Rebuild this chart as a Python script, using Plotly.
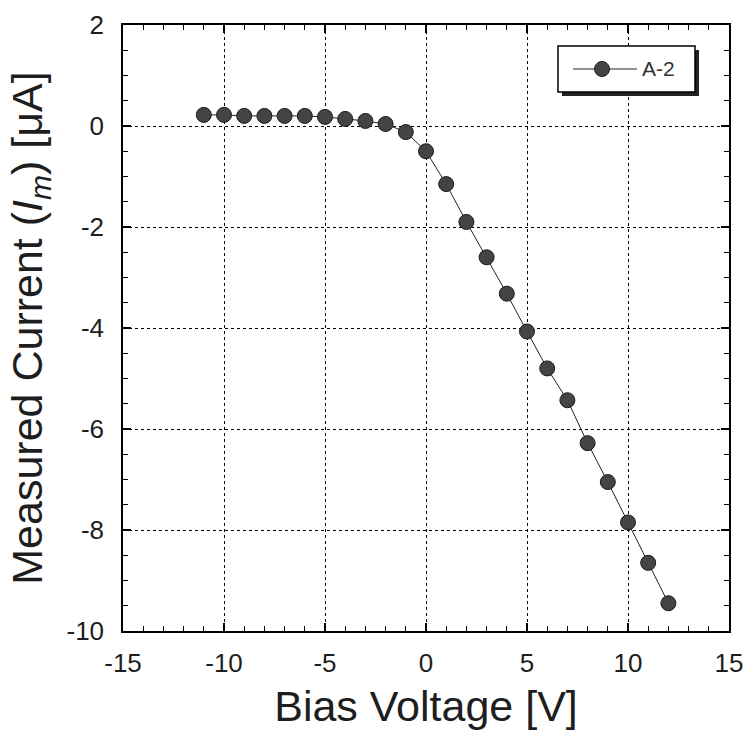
import plotly.graph_objects as go

bias_voltage = [-11, -10, -9, -8, -7, -6, -5, -4, -3, -2, -1, 0, 1, 2, 3, 4, 5, 6, 7, 8, 9, 10, 11, 12]
current_uA = [0.22, 0.22, 0.2, 0.2, 0.2, 0.2, 0.18, 0.14, 0.1, 0.04, -0.12, -0.5, -1.15, -1.9, -2.6,
              -3.32, -4.07, -4.8, -5.43, -6.28, -7.05, -7.85, -8.65, -9.45]
series_name = "A-2"
x_ticks = [-15, -10, -5, 0, 5, 10, 15]
y_ticks = [-10, -8, -6, -4, -2, 0, 2]

FONT = "Liberation Sans, Arial, sans-serif"
TXT = "#1e1e1e"

fig = go.Figure()
fig.add_trace(go.Scatter(
    x=bias_voltage, y=current_uA, name=series_name, mode="lines+markers",
    line=dict(color="#222222", width=1),
    marker=dict(size=15, color="#444444", line=dict(color="#1a1a1a", width=1)),
    showlegend=False,
))

axis_common = dict(
    showline=True, linecolor="black", linewidth=1.5, mirror="allticks",
    ticks="inside", ticklen=8, tickwidth=1.5, tickcolor="black",
    showgrid=True, gridcolor="black", griddash="dot", gridwidth=1.2,
    zeroline=False, automargin=False,
    tickfont=dict(family=FONT, size=26, color=TXT),
    minor=dict(ticks="inside", ticklen=5, tickwidth=1.2, tickcolor="black", showgrid=False),
)

fig.update_xaxes(
    range=[-15, 15], tickvals=x_ticks, ticktext=[str(v) for v in x_ticks],
    ticklabelstandoff=8,
    title=dict(text="Bias Voltage [V]", font=dict(family=FONT, size=43, color=TXT), standoff=14),
    **axis_common,
)
fig.update_xaxes(minor_dtick=1)
fig.update_yaxes(
    range=[-10, 2], tickvals=y_ticks, ticktext=[str(v) for v in y_ticks],
    ticklabelstandoff=12,
    title=dict(text="Measured Current (<i>I</i><sub><i>m</i></sub>) [μA]",
               font=dict(family=FONT, size=43, color=TXT), standoff=10),
    **axis_common,
)
fig.update_yaxes(minor_dtick=0.5)

# legend drawn manually (paper coordinates of the plot area)
fig.add_shape(type="rect", xref="paper", yref="paper",
              x0=0.7244, x1=0.9505, y0=0.8828, y1=0.9587,
              fillcolor="#222222", line=dict(width=0), layer="above")
fig.add_shape(type="rect", xref="paper", yref="paper",
              x0=0.7178, x1=0.9439, y0=0.8894, y1=0.9653,
              fillcolor="white", line=dict(color="black", width=1.5), layer="above")
fig.add_shape(type="line", xref="paper", yref="paper",
              x0=0.7426, x1=0.8482, y0=0.9274, y1=0.9274,
              line=dict(color="#222222", width=1), layer="above")
fig.add_shape(type="circle", xref="paper", yref="paper",
              x0=0.7781, x1=0.8028, y0=0.9150, y1=0.9398,
              fillcolor="#444444", line=dict(color="#1a1a1a", width=1), layer="above")
fig.add_annotation(xref="paper", yref="paper", x=0.8531, y=0.9274,
                   xanchor="left", yanchor="middle", showarrow=False,
                   text=series_name, font=dict(family=FONT, size=21, color="#333333"))

fig.update_layout(
    width=747, height=736,
    margin=dict(l=123, r=18, t=25, b=105),
    paper_bgcolor="white", plot_bgcolor="white",
    showlegend=False,
)

fig.write_html("out.html")
